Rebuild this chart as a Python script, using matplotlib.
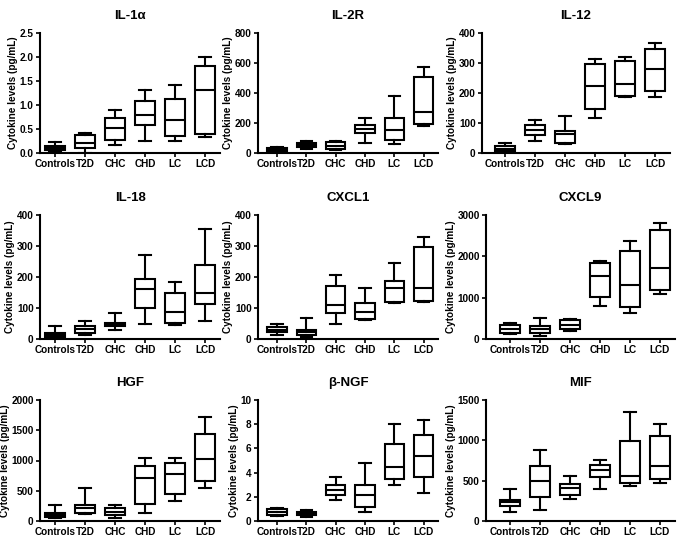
import matplotlib
matplotlib.use("Agg")
import matplotlib.pyplot as plt

plt.rcParams['font.family'] = ['Liberation Sans', 'DejaVu Sans']
plt.rcParams['font.weight'] = 'bold'

groups = ["Controls", "T2D", "CHC", "CHD", "LC", "LCD"]

# each row: [whisker low, Q1, median, Q3, whisker high] per group
il1a = [[0.02, 0.06, 0.10, 0.15, 0.22], [0.00, 0.10, 0.20, 0.38, 0.42], [0.16, 0.28, 0.53, 0.72, 0.90],
        [0.24, 0.58, 0.80, 1.08, 1.32], [0.26, 0.35, 0.69, 1.13, 1.41], [0.33, 0.40, 1.32, 1.82, 1.99]]
il2r = [[5, 12, 22, 33, 40], [28, 40, 55, 68, 80], [20, 30, 50, 75, 80],
        [66, 135, 160, 188, 232], [62, 84, 155, 232, 380], [177, 195, 276, 508, 575]]
il12 = [[0, 7, 15, 22, 32], [40, 59, 76, 94, 110], [29, 32, 65, 74, 124],
        [116, 146, 224, 295, 313], [187, 191, 229, 305, 321], [186, 208, 281, 348, 365]]
il18 = [[1, 8, 13, 19, 43], [12, 20, 31, 42, 57], [30, 41, 46, 52, 85],
        [50, 99, 160, 195, 270], [46, 52, 86, 149, 184], [58, 113, 147, 240, 355]]
cxcl1 = [[13, 21, 29, 40, 47], [5, 14, 21, 28, 68], [50, 84, 110, 172, 205],
         [60, 63, 86, 116, 165], [115, 119, 163, 187, 244], [118, 124, 165, 297, 329]]
cxcl9 = [[115, 150, 250, 330, 390], [80, 150, 230, 305, 520], [205, 230, 330, 455, 480],
         [800, 1010, 1515, 1840, 1880], [620, 770, 1310, 2140, 2380], [1100, 1185, 1720, 2635, 2800]]
hgf = [[57, 74, 103, 131, 257], [114, 131, 217, 263, 549], [57, 91, 149, 217, 257],
       [131, 274, 703, 903, 1046], [331, 446, 777, 960, 1046], [543, 663, 1017, 1434, 1714]]
bngf = [[0.40, 0.46, 0.74, 1.00, 1.09], [0.33, 0.49, 0.63, 0.74, 0.95], [1.77, 2.18, 2.59, 2.94, 3.60],
        [0.74, 1.14, 2.18, 2.94, 4.82], [3.00, 3.49, 4.44, 6.40, 7.98], [2.32, 3.62, 5.37, 7.08, 8.31]]
mif = [[109, 182, 231, 263, 393], [142, 292, 499, 677, 884], [276, 324, 405, 454, 555],
       [393, 547, 628, 689, 758], [434, 474, 555, 993, 1350], [474, 515, 677, 1054, 1204]]

titles = ["IL-1α", "IL-2R", "IL-12", "IL-18", "CXCL1", "CXCL9", "HGF", "β-NGF", "MIF"]
datasets = [il1a, il2r, il12, il18, cxcl1, cxcl9, hgf, bngf, mif]
ymaxes = [2.5, 800, 400, 400, 400, 3000, 2000, 10, 1500]
ysteps = [0.5, 200, 100, 100, 100, 1000, 500, 2, 500]
ylabel = "Cytokine levels (pg/mL)"

fig = plt.figure(figsize=(6.83, 5.38), dpi=100)
W, H = 683, 538

# layout in pixels
col_lefts = [40, 258, 486]
col_xmin = [0.5, 0.35, 0.2]
col_spacing = [30.0, 29.3, 30.0]
row_tops = [33, 215, 400]
row_bottoms = [153, 339, 521]

lw = 1.5
for i, (title, data, ymax, ystep) in enumerate(zip(titles, datasets, ymaxes, ysteps)):
    r, c = divmod(i, 3)
    left_px = col_lefts[c]
    xmin = col_xmin[c]
    if i == 2:
        left_px = 482
        xmin = 1 - (505 - 482) / col_spacing[c]
    width_px = (6.5 - xmin) * col_spacing[c]
    ax = fig.add_axes([left_px / W, 1 - row_bottoms[r] / H, width_px / W,
                       (row_bottoms[r] - row_tops[r]) / H])
    stats = []
    for g, vals in zip(groups, data):
        stats.append(dict(whislo=vals[0], q1=vals[1], med=vals[2], q3=vals[3], whishi=vals[4], label=g, fliers=[]))
    ax.bxp(stats, positions=range(1, 7), widths=0.66, showfliers=False, patch_artist=True,
           boxprops=dict(facecolor='white', edgecolor='black', linewidth=lw),
           medianprops=dict(color='black', linewidth=lw),
           whiskerprops=dict(color='black', linewidth=lw),
           capprops=dict(color='black', linewidth=lw),
           capwidths=0.38)
    ax.set_xlim(xmin, 6.5)
    ax.set_ylim(0, ymax)
    n = int(round(ymax / ystep))
    ticks = [k * ystep for k in range(n + 1)]
    ax.set_yticks(ticks)
    if ymax == 2.5:
        ax.set_yticklabels([f"{t:.1f}" for t in ticks])
    else:
        ax.set_yticklabels([f"{int(round(t))}" for t in ticks])
    ax.set_xticks(range(1, 7))
    ax.set_xticklabels(groups)
    for s in ['top', 'right']:
        ax.spines[s].set_visible(False)
    for s in ['left', 'bottom']:
        ax.spines[s].set_linewidth(lw)
    ax.tick_params(axis='both', labelsize=7.2, width=1.2, length=3, pad=1.5)
    for lab in ax.get_xticklabels() + ax.get_yticklabels():
        lab.set_fontweight('bold')
    ax.set_ylabel(ylabel, fontsize=7.2, fontweight='bold', labelpad=1)
    ax.set_title(title, fontsize=9.5, fontweight='bold', pad=10)

fig.savefig("out.png", dpi=100)
